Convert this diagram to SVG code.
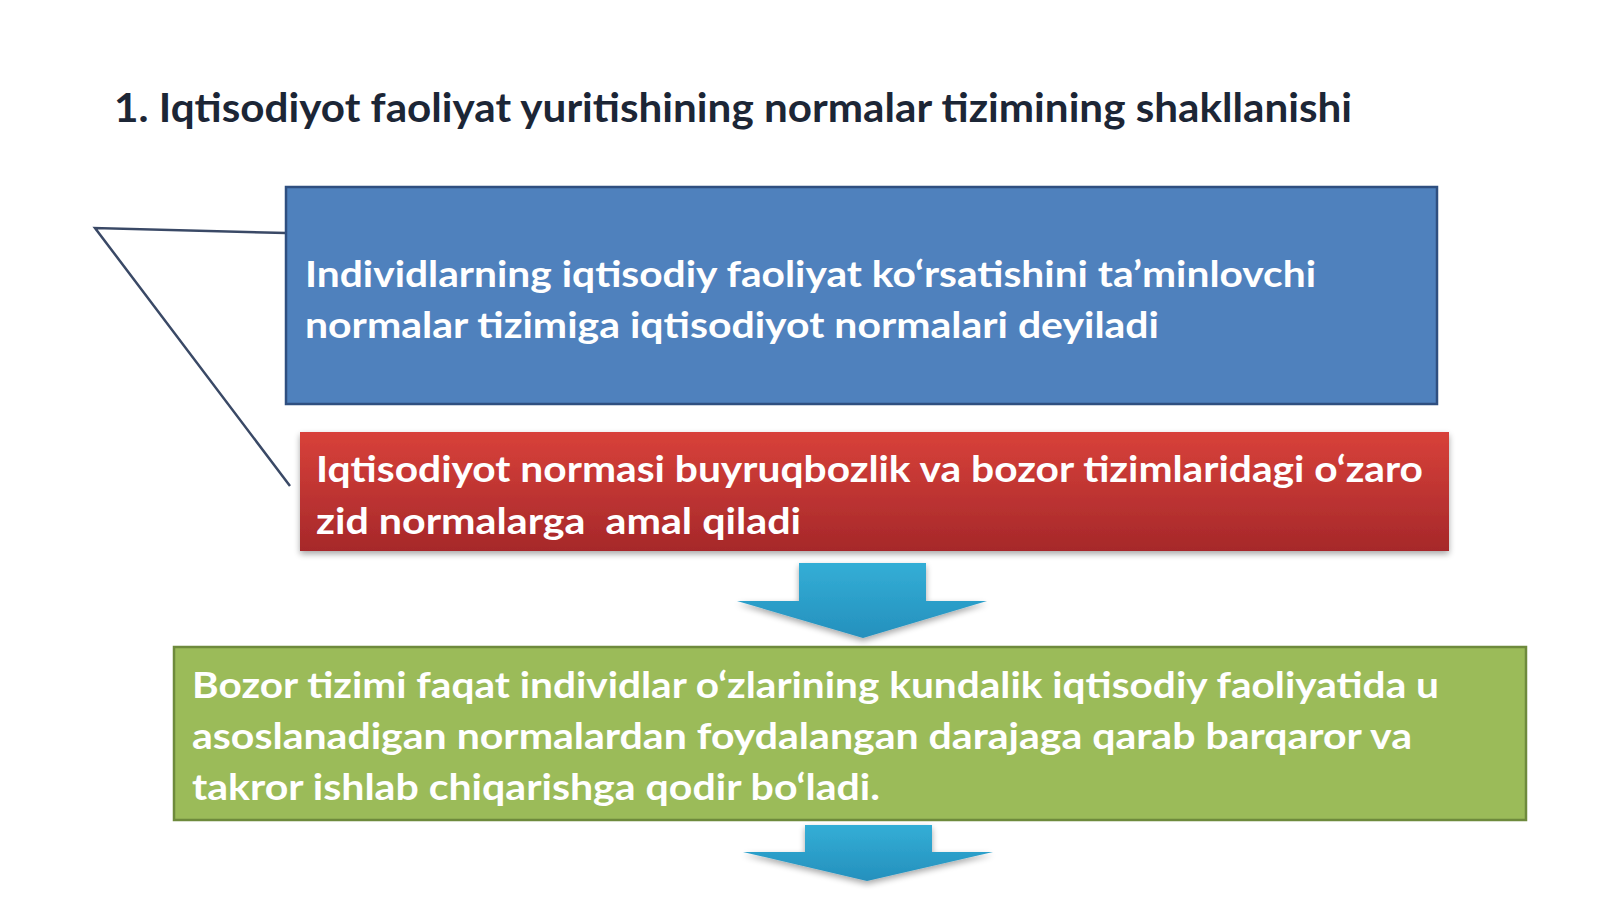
<svg xmlns="http://www.w3.org/2000/svg" width="1600" height="902" viewBox="0 0 1600 902">
<defs>
<style>
.t{font-family:Lato,"Liberation Sans",Arial,sans-serif;font-weight:bold;}
.title{font-size:40px;fill:#1c2636;}
.bt{font-size:36px;fill:#ffffff;}
.conn{fill:none;stroke:#3a4966;stroke-width:2.5;}
</style>
<linearGradient id="red" x1="0" y1="0" x2="0" y2="1">
<stop offset="0" stop-color="#d8413a"/>
<stop offset="1" stop-color="#a6282a"/>
</linearGradient>
<linearGradient id="arr" x1="0" y1="0" x2="0" y2="1">
<stop offset="0" stop-color="#33aed6"/>
<stop offset="1" stop-color="#2590bd"/>
</linearGradient>
<filter id="sh" x="-5%" y="-10%" width="110%" height="130%">
<feGaussianBlur in="SourceAlpha" stdDeviation="3"/>
<feOffset dx="0" dy="3" result="b"/>
<feComponentTransfer><feFuncA type="linear" slope="0.35"/></feComponentTransfer>
<feMerge><feMergeNode/><feMergeNode in="SourceGraphic"/></feMerge>
</filter>
</defs>
<rect width="1600" height="902" fill="#ffffff"/>
<text id="title" class="t title" x="114" y="122" textLength="1238" lengthAdjust="spacingAndGlyphs">1. Iqtisodiyot faoliyat yuritishining normalar tizimining shakllanishi</text>
<g id="connectors">
<polyline class="conn" points="286,233 95,228 290,486"/>
<path id="arrow1" d="M799,563 H926 V601 H987 L863,638 L737,601 H799 Z" fill="url(#arr)" filter="url(#sh)"/>
<path id="arrow2" d="M805,825 H932 V852 H993 L867,881 L743,852 H805 Z" fill="url(#arr)" filter="url(#sh)"/>
</g>
<g id="node-blue">
<rect x="286" y="187" width="1151" height="217" fill="#4f81bd" stroke="#2f4f80" stroke-width="2.5"/>
<text class="t bt" x="305" y="287" textLength="1011" lengthAdjust="spacingAndGlyphs">Individlarning iqtisodiy faoliyat ko‘rsatishini ta’minlovchi</text>
<text class="t bt" x="305" y="338" textLength="854" lengthAdjust="spacingAndGlyphs">normalar tizimiga iqtisodiyot normalari deyiladi</text>
</g>
<g id="node-red">
<rect x="300" y="432" width="1149" height="119" fill="url(#red)" filter="url(#sh)"/>
<text class="t bt" x="316" y="482" textLength="1107" lengthAdjust="spacingAndGlyphs">Iqtisodiyot normasi buyruqbozlik va bozor tizimlaridagi o‘zaro</text>
<text class="t bt" x="316" y="534" textLength="485" lengthAdjust="spacingAndGlyphs" xml:space="preserve" style="white-space:pre">zid normalarga  amal qiladi</text>
</g>
<g id="node-green">
<rect x="174" y="647" width="1352" height="173" fill="#9bbb59" stroke="#6e8a3c" stroke-width="2.5"/>
<text class="t bt" x="192" y="698" textLength="1247" lengthAdjust="spacingAndGlyphs">Bozor tizimi faqat individlar o‘zlarining kundalik iqtisodiy faoliyatida u</text>
<text class="t bt" x="192" y="749" textLength="1220" lengthAdjust="spacingAndGlyphs">asoslanadigan normalardan foydalangan darajaga qarab barqaror va</text>
<text class="t bt" x="192" y="800" textLength="688" lengthAdjust="spacingAndGlyphs">takror ishlab chiqarishga qodir bo‘ladi.</text>
</g>
</svg>
